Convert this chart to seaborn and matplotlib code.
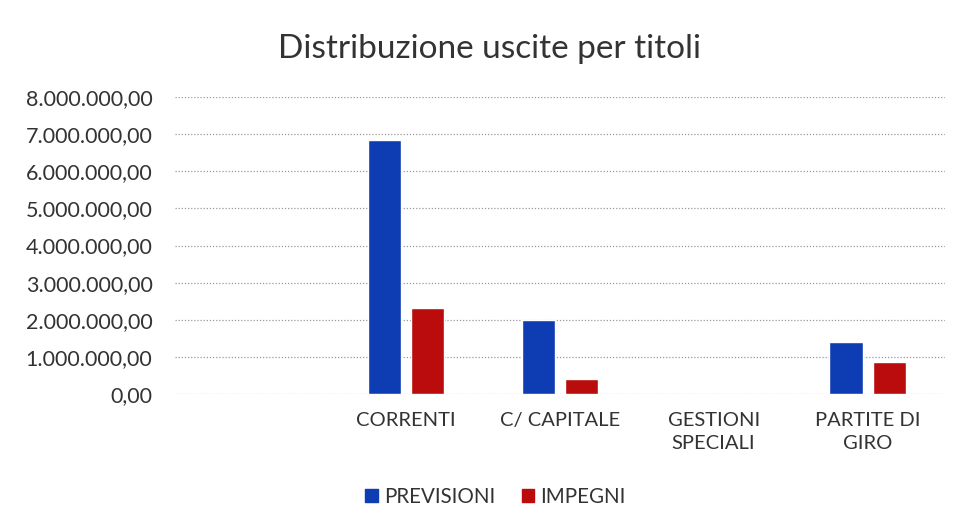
import matplotlib
matplotlib.use("Agg")
import matplotlib.pyplot as plt
import seaborn as sns
import pandas as pd
from matplotlib.ticker import FuncFormatter
from matplotlib.patches import Patch

categories = ["", "CORRENTI", "C/ CAPITALE", "GESTIONI\nSPECIALI", "PARTITE DI\nGIRO"]
series = ["PREVISIONI", "IMPEGNI"]
previsioni = [None, 6850000, 1990000, 0, 1400000]
impegni = [None, 2330000, 400000, 0, 850000]
colors = {"PREVISIONI": "#0E3CB2", "IMPEGNI": "#BA0C0C"}

rows = []
for c, p, i in zip(categories, previsioni, impegni):
    if p is not None:
        rows.append({"cat": c, "serie": "PREVISIONI", "val": p})
    if i is not None:
        rows.append({"cat": c, "serie": "IMPEGNI", "val": i})
df = pd.DataFrame(rows)

sns.set_theme(style="white")
plt.rcParams["font.family"] = ["Lato", "DejaVu Sans"]

fig = plt.figure(figsize=(9.6, 5.31), dpi=100)
ax = fig.add_axes([0.182, 0.258, 0.802, 0.559])

sns.barplot(data=df, x="cat", y="val", hue="serie", order=categories,
            hue_order=series, palette=colors, width=0.56, gap=0.23,
            ax=ax, legend=False, saturation=1)

ax.set_ylim(0, 8000000)
ax.set_yticks(range(0, 8000001, 1000000))

def fmt(v, pos):
    s = f"{v:,.2f}"
    return s.replace(",", "X").replace(".", ",").replace("X", ".")

ax.yaxis.set_major_formatter(FuncFormatter(fmt))
ax.grid(axis="y", color="#9a9a9a", linestyle=(0, (1, 1.5)), linewidth=0.9)
ax.set_axisbelow(True)
for s in ax.spines.values():
    s.set_visible(False)
ax.tick_params(axis="y", length=0, pad=16, labelsize=15.5, labelcolor="#333333")
ax.tick_params(axis="x", length=0, pad=13, labelsize=14.5, labelcolor="#333333")
for lbl in ax.get_xticklabels():
    lbl.set_linespacing(1.45)
ax.set_xlabel("")
ax.set_ylabel("")

fig.text(0.51, 0.908, "Distribuzione uscite per titoli", ha="center", va="center",
         fontsize=24, color="#333333")

handles = [Patch(color=colors[s], label=s) for s in series]
fig.legend(handles=handles, loc="center", bbox_to_anchor=(0.516, 0.064), ncol=2,
           frameon=False, fontsize=14.8, handlelength=0.6, handleheight=0.6,
           handletextpad=0.3, columnspacing=1.3, labelcolor="#333333")

fig.savefig("out.png", dpi=100)
